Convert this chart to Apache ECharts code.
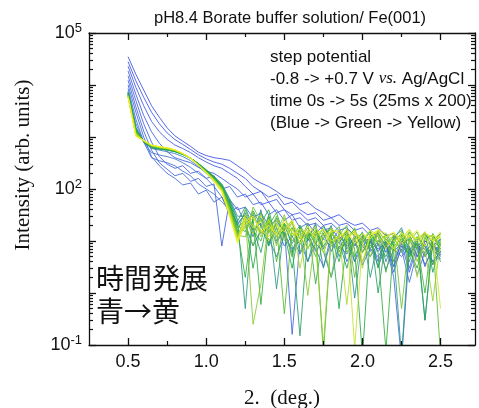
<!DOCTYPE html>
<html><head><meta charset="utf-8">
<script src="https://cdn.jsdelivr.net/npm/echarts@6/dist/echarts.min.js"></script>
<style>html,body{margin:0;padding:0;background:#fff}#c{width:479px;height:408px}</style>
</head><body><div id="c"></div>
<script>
// ---- data ----
const xs = [0.5,0.55,0.6,0.65,0.7,0.75,0.8,0.85,0.9,0.95,1.0,1.05,1.1,1.15,1.2,1.25,1.3,1.35,1.4,1.45,1.5,1.55,1.6,1.65,1.7,1.75,1.8,1.85,1.9,1.95,2.0,2.05,2.1,2.15,2.2,2.25,2.3,2.35,2.4,2.45,2.5];
const xTickLabels = [0.5,1.0,1.5,2.0,2.5];
const xMinorTicks = [0.75,1.25,1.75,2.25];
const yDecades = [-1,0,1,2,3,4,5];
const yLabelDecades = [-1,2,5];

// early (blue) transient curves
const b0 = [35000,16000,8000,4000,2400,1500,1050,830,660,510,440,400,380,355,280,220,160,130,112,90,70,63,50,56,42,35,28,32,24,20,22,16,18,12.6,14,9,12.6,7,10,8,11];
const b1 = [28000,12000,5800,3000,1800,1200,890,720,575,455,380,330,300,250,200,160,112,90,70,80,50,56,40,32,35,25,28,20,22,16,18,12.6,14,8,12.6,9,11,5,10,8,7];
const b2 = [23000,9000,4000,2000,1260,900,700,600,500,400,330,280,250,200,160,112,80,90,56,63,40,32,35,25,28,20,22,16,18,12.6,10,11,6.3,10,4,9,5.6,10,3.2,8,6.3];
const b3 = [18600,6600,2600,1260,760,520,400,355,320,260,220,200,160,125,100,70,80,50,56,35,40,25,28,20,22,16,18,11,14,8,12.6,6.3,10,9,3.2,10,7,9,5,8,5.6];
const b4 = [15000,5000,1800,800,420,300,250,280,200,220,160,180,100,112,70,80,50,56,32,40,25,32,18,22,14,20,10,16,7,12.6,8,11,4,10,6.3,9,2.5,8,7,4,6.3];
const b5 = [12300,3800,1300,560,320,240,180,200,140,160,112,125,8,63,40,45,28,35,20,25,16,22,11,18,9,14,6.3,12.6,8,11,4,10,7,9,2.5,8,5.6,9,3.5,7,4.5];
const b6 = [10000,3000,1000,420,280,200,160,120,130,80,95,56,70,35,45,22,32,14,22,9,18,0.16,10,14,6.3,11,8,12.6,4,9,6.3,10,3.2,8,2,0.05,7,5,9,4,6.3];
const b7 = [8500,2200,800,400,350,320,280,220,180,125,100,80,56,40,22,32,16,22,10,18,8,12.6,5.6,11,7,3.2,10,6.3,10,4,8,5,9,2.8,7,5,8,2.2,6.3,9,5];
const b8 = [7400,1800,800,500,450,420,380,320,260,200,160,112,70,32,12.6,20,8,16,11,5,12.6,7,10,4,9,6.3,2,8,5.6,10,3.5,7,5,9,3.2,7,1.6,6.3,8,3.5,5.6];
const b9 = [6600,1500,800,600,560,520,480,420,350,270,200,140,95,50,20,35,14,28,9,22,16,5,18,12,20,7,14,10,16,4,12,9,15,6,11,13,3,10,14,7,11];
// later curves (green -> yellow)
const c0 = [7500,1500,800,620,580,560,520,460,390,310,235,175,125,65,30,30,12,40,8,25,15,6,18,10,22,3,14,9,16,0.8,12,7,15,4,11,18,6,12,0.3,10,14];
const c1 = [7300,1460,802,630,588,564,523,462,391,309,232,172,121,61,26,0.5,35,14,28,1.2,20,9,16,4,14,11,20,5,12,8,15,2,10,13,6,0.06,12,7,14,9,4];
const c2 = [7100,1420,806,638,595,568,527,464,392,307,229,169,118,57,24,45,18,6,30,12,22,8,0.15,13,18,6,15,10,3,12,9,16,1,11,7,13,5,10,15,2.5,9];
const c3 = [6950,1390,810,645,600,572,530,466,393,305,227,166,115,54,20,15,38,20,8,28,14,3,20,11,16,8,13,0.5,11,17,6,12,3,14,8,11,5,9,0.3,12,7];
const c4 = [6800,1350,815,652,606,577,535,468,394,304,225,164,112,51,18,25,3,22,40,10,18,24,6,15,9,19,12,4,16,7,0.06,14,9,5,12,16,7,3,11,13,8];
const c5 = [6650,1320,818,658,610,580,538,470,394,302,223,161,110,48,16,2,28,0.6,20,35,12,18,9,22,1.5,14,17,7,13,5,11,15,6,0.08,10,14,4,12,8,3.5,11];
const c6 = [6500,1280,822,663,615,585,542,472,394,300,221,159,107,46,15,40,16,10,32,4,22,12,20,7,15,0.07,13,19,6,11,14,8,13,2.5,12,6,15,9,1,14,6];
const c7 = [6400,1250,826,668,620,590,545,473,393,299,219,157,105,44,14,22,8,35,15,20,0.4,18,11,14,5,16,9,13,20,2,13,7,16,10,4,12,10,15,5,11,0.06];
const c8 = [6300,1220,830,672,624,594,548,474,393,297,217,155,103,42,13,12,45,24,14,30,16,5,17,12,14,8,2,15,10,18,6,11,14,8,13,0.5,12,7,14,10,12];
const c9 = [6200,1190,834,676,628,598,551,475,392,295,215,153,101,40,12,30,0.25,1.5,26,14,32,10,16,0.9,14,11,18,6,12,15,9,5,14,11,7,10,15,4,12,8,14];
const c10 = [6100,1160,838,680,632,602,554,476,392,293,213,151,99,38,12,18,35,12,24,8,28,14,13,18,9,0.1,14,10,17,12,3,14,10,13,6,15,9,12,7,0.7,10];
const c11 = [6050,1130,842,684,636,606,557,477,391,291,211,149,97,36,11,26,14,30,16,22,10,24,3,16,12,17,8,13,0.6,15,11,16,9,12,14,8,13,2,14,10,15];
const c12 = [5980,1100,846,688,640,610,560,478,391,289,209,147,95,34,11,32,20,14,26,12,18,22,13,7,17,13,15,10,15,0.09,9,13,16,14,10,12,16,9,13,6,14];
const c13 = [5920,1080,850,692,645,615,562,479,390,287,207,145,93,33,10,20,28,16,12,25,18,13,17,14,19,9,15,16,12,14,10,16,13,7,14,11,17,10,14,12,0.5];
const c14 = [5860,1050,855,696,650,620,565,480,390,285,205,142,90,31,10,28,18,24,10,20,15,26,9,16,12,6,17,14,11,16,4,13,15,10,7,14,12,16,8,13,11];
const c15 = [5800,1020,860,700,655,625,568,482,390,284,202,140,88,30,9,24,30,15,20,13,24,16,11,19,14,17,10,12,16,9,14,11,17,12,15,9,13,11,15,10,13];

const curves = [b0,b1,b2,b3,b4,b5,b6,b7,b8,b9,c0,c1,c2,c3,c4,c5,c6,c7,c8,c9,c10,c11,c12,c13,c14,c15];
const seriesColors = ['#3b4ee6','#3c52e5','#3d56e3','#3e5ae2','#3f5ee0','#4062de','#4066dc','#3f6cd6','#3d74cc','#3a7fb8',
  '#2e8c96','#2a9680','#26a066','#22a650','#22aa40','#2eae38','#40b434','#56ba32','#6cc230','#82c82e','#98d02c','#aed82a','#c2e028','#d4e626','#e4ec24','#f0f022'];

// ---- chart ----
const SANS = '"Liberation Sans", Arial, Helvetica, sans-serif';
const SERIF = '"Liberation Serif", "Times New Roman", serif';
const INK = '#111';
const yMinor = [];
yDecades.slice(0, -1).forEach(d => { for (let k = 2; k <= 9; k++) yMinor.push(d + Math.log10(k)); });

const chart = echarts.init(document.getElementById('c'));
const baseX = { type:'value', min:0.25, max:2.72, splitLine:{show:false}, z:10 };
const baseY = { type:'value', min:-1, max:5, splitLine:{show:false}, z:10 };
const line = { show:true, onZero:false, lineStyle:{color:INK, width:1.3} };
const noLine = { show:false, onZero:false };
const major = v => ({ show:true, inside:true, length:7, customValues:v, lineStyle:{color:INK, width:1.3} });
const minor = v => ({ show:true, inside:true, length:4, customValues:v, lineStyle:{color:INK, width:1.2} });
const rect = { left:89, right:4, top:33, bottom:63, outerBoundsMode:'none', containLabel:false };

chart.setOption({
  animation:false,
  title:{ text:'pH8.4 Borate buffer solution/ Fe(001)', left:154, top:10, padding:0,
    textStyle:{ fontFamily:SANS, fontSize:16.5, fontWeight:'normal', color:INK } },
  grid:[ Object.assign({}, rect), Object.assign({}, rect) ],
  xAxis:[
    Object.assign({}, baseX, { gridIndex:0, position:'bottom', axisLine:line, axisTick:major(xTickLabels),
      axisLabel:{ show:true, customValues:xTickLabels, margin:8, fontFamily:SANS, fontSize:18, color:INK,
        formatter: v => v.toFixed(1) },
      name:'2.  (deg.)', nameLocation:'middle', nameGap:43,
      nameTextStyle:{ fontFamily:SERIF, fontSize:21, color:INK } }),
    Object.assign({}, baseX, { gridIndex:0, position:'top', axisLine:line, axisTick:major(xTickLabels), axisLabel:{show:false} }),
    Object.assign({}, baseX, { gridIndex:1, position:'bottom', axisLine:noLine, axisTick:minor(xMinorTicks), axisLabel:{show:false} }),
    Object.assign({}, baseX, { gridIndex:1, position:'top', axisLine:noLine, axisTick:minor(xMinorTicks), axisLabel:{show:false} })
  ],
  yAxis:[
    { gridIndex:0, type:'log', logBase:10, min:0.1, max:100000, show:false },
    Object.assign({}, baseY, { gridIndex:0, position:'left', axisLine:line, axisTick:major(yDecades),
      axisLabel:{ show:true, customValues:yLabelDecades, margin:7,
        formatter: v => '{b|10}{s|' + Math.round(v) + '}',
        rich:{ b:{ fontFamily:SANS, fontSize:18, lineHeight:18, color:INK, verticalAlign:'bottom' },
               s:{ fontFamily:SANS, fontSize:13, lineHeight:13, color:INK, verticalAlign:'bottom', padding:[0,0,7,0] } } },
      name:'Intensity (arb. units)', nameLocation:'middle', nameGap:55,
      nameTextStyle:{ fontFamily:SERIF, fontSize:21, color:INK, padding:[0,0,0,48] } }),
    Object.assign({}, baseY, { gridIndex:0, position:'right', axisLine:line, axisTick:major(yDecades), axisLabel:{show:false} }),
    Object.assign({}, baseY, { gridIndex:1, position:'left', axisLine:noLine, axisTick:minor(yMinor), axisLabel:{show:false} }),
    Object.assign({}, baseY, { gridIndex:1, position:'right', axisLine:noLine, axisTick:minor(yMinor), axisLabel:{show:false} })
  ],
  series: curves.map((arr, k) => ({
    type:'line', xAxisIndex:0, yAxisIndex:0, silent:true, z:2,
    symbol:'none', showSymbol:false,
    lineStyle:{ width:1, color:seriesColors[k], opacity:0.85 },
    data: xs.map((x, i) => [x, arr[i]])
  })),
  graphic:[
    { type:'text', left:270, top:46, silent:true,
      style:{ text:'step potential\n-0.8 -> +0.7 V {i|vs.} Ag/AgCl\ntime 0s -> 5s (25ms x 200)\n(Blue -> Green -> Yellow)',
        font:'17px ' + SANS, fill:INK, lineHeight:22,
        rich:{ i:{ fontFamily:SERIF, fontStyle:'italic', fontSize:17, fill:INK, lineHeight:22 } } } },
    { type:'text', left:96, top:262, silent:true,
      style:{ text:'時間発展\n青→黄', font:'28px "Noto Sans CJK JP", sans-serif', fill:INK, lineHeight:33 } }
  ]
});
</script>
</body></html>
